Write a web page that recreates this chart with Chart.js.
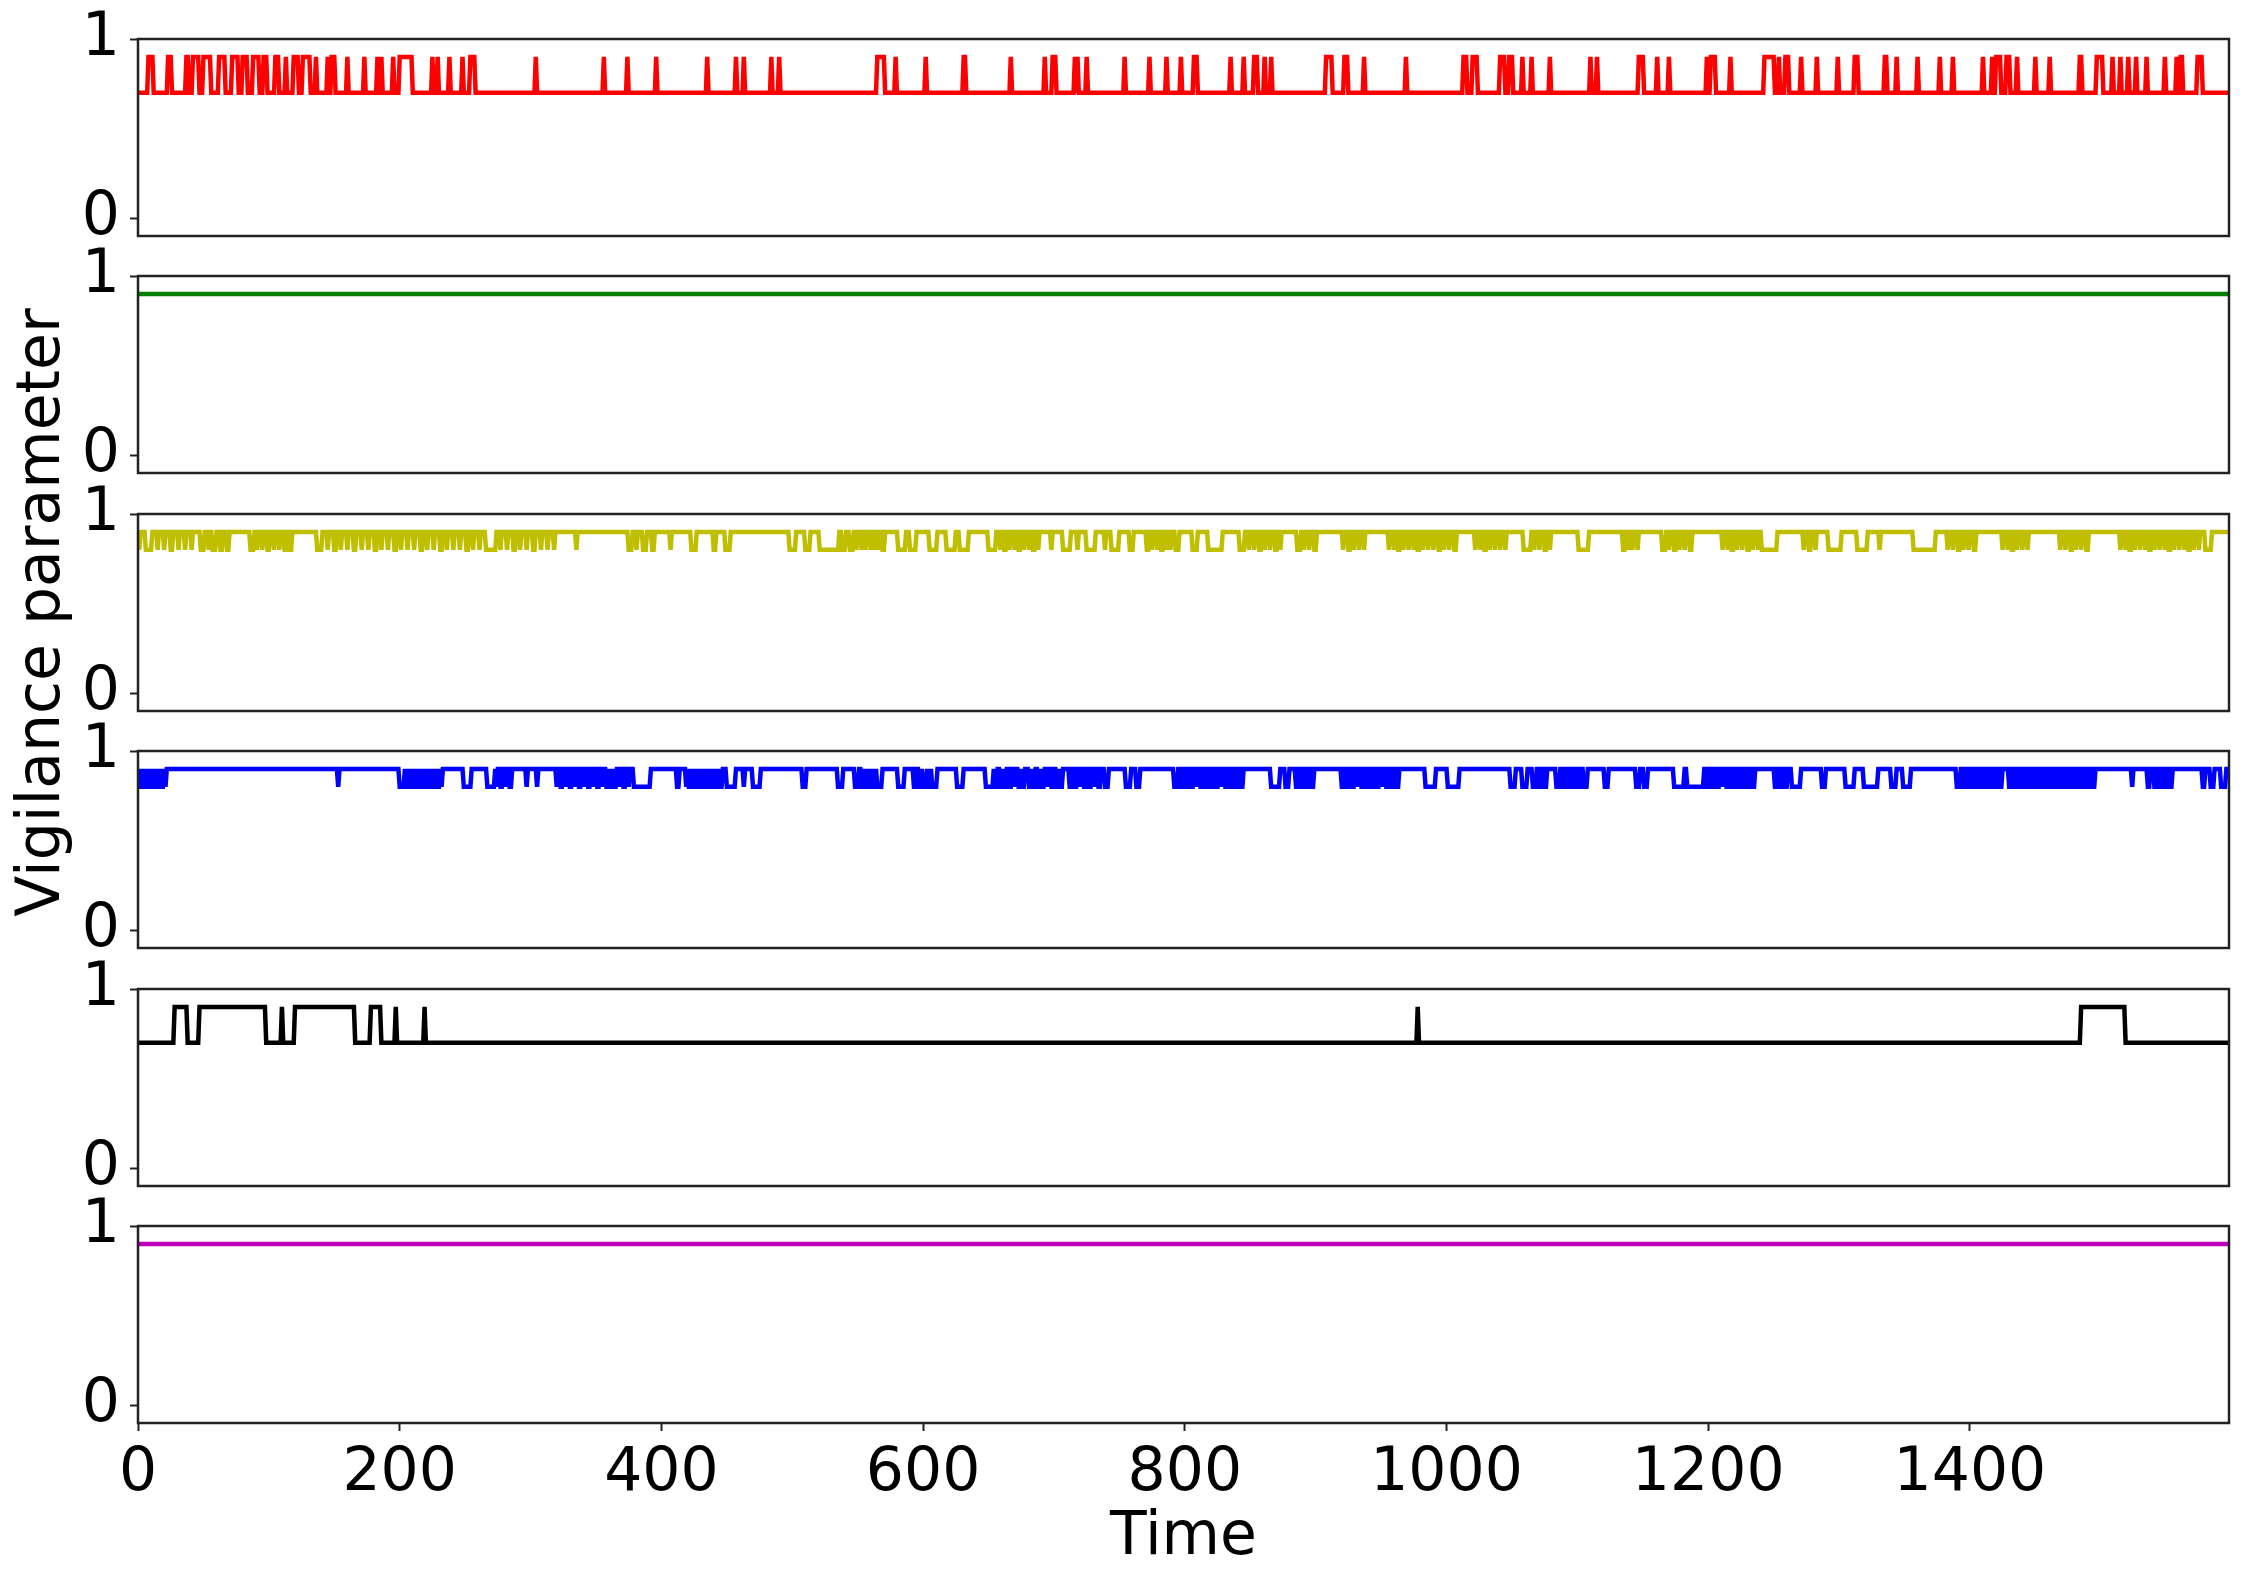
<!DOCTYPE html>
<html>
<head>
<meta charset="utf-8">
<script src="https://cdn.jsdelivr.net/npm/chart.js@4.4.1/dist/chart.umd.min.js"></script>
<style>
  html, body { margin: 0; padding: 0; background: #fff; }
  body { width: 2245px; height: 1582px; position: relative; overflow: hidden; }
  .panel { position: absolute; left: 0; width: 2245px; }
</style>
</head>
<body>
<script>
/* ── data ────────────────────────────────────────────────── */
const xMax = 1598;
const xTicks = [0, 200, 400, 600, 800, 1000, 1200, 1400];
const yTicks = [0, 1];

// red: sits at 0.7, jumps to 0.9 on these time spans
const redLevels = [0.7, 0.9];
const redHigh = [[8,11],[23,25],[37,38],[42,46],[50,55],[62,66],[72,76],[80,83],[88,92],[96,98],[105,107],[113,113],
  [119,122],[126,131],[136,136],[145,145],[148,150],[160,160],[173,173],[183,183],[186,186],[195,195],[200,209],
  [225,225],[229,229],[238,238],[248,248],[254,257],[304,304],[356,356],[374,374],[396,396],[435,435],[457,457],
  [463,463],[484,484],[490,490],[565,570],[579,579],[602,602],[631,632],[667,667],[693,693],[699,701],[716,716],
  [718,718],[725,725],[754,754],[773,773],[786,786],[797,797],[807,809],[835,835],[845,845],[853,855],[861,861],
  [866,866],[908,912],[922,924],[937,937],[969,969],[1013,1015],[1020,1023],[1041,1044],[1048,1050],[1058,1058],
  [1065,1065],[1079,1079],[1110,1110],[1115,1115],[1147,1150],[1161,1161],[1170,1170],[1199,1199],[1202,1205],
  [1217,1217],[1243,1250],[1254,1254],[1259,1261],[1271,1271],[1283,1283],[1299,1299],[1312,1314],[1335,1336],
  [1344,1344],[1360,1360],[1377,1377],[1387,1387],[1410,1410],[1417,1417],[1420,1423],[1428,1430],[1436,1436],
  [1450,1450],[1461,1461],[1484,1485],[1497,1501],[1509,1509],[1515,1515],[1521,1521],[1527,1527],[1535,1535],
  [1549,1549],[1558,1558],[1561,1562],[1574,1577]];

// green: flat
const greenLevel = 0.9;

// yellow: sits at 0.9, drops to 0.8 on these spans
const yellowLevels = [0.9, 0.8];
const yellowLow = [[1,1],[6,10],[15,15],[20,20],[25,26],[31,31],[36,36],[41,41],[48,50],[54,54],[57,59],[63,64],[68,69],
  [86,88],[91,91],[95,95],[99,100],[104,104],[108,108],[112,113],[116,117],
  [137,140],[145,145],[150,151],[155,155],[160,160],[165,166],[171,171],[176,176],[181,182],[186,186],[191,191],
  [196,197],[201,201],[206,206],[211,211],[216,217],[221,221],[226,226],[231,232],[236,236],[241,241],[246,246],
  [251,252],[256,256],[261,261],[266,273],[277,277],[282,282],[287,288],[292,292],[297,297],[302,303],[308,308],
  [313,313],[318,318],[335,335],[375,377],[381,381],[386,388],[393,394],[407,407],[423,426],[440,441],[449,452],
  [498,502],[510,513],[521,535],[538,540],[544,546],[549,549],[553,553],[556,556],[560,560],[563,563],[566,566],
  [569,570],[581,586],[590,594],[605,610],[618,624],[628,634],[650,655],[659,659],[662,663],[666,666],[670,670],
  [673,674],[677,677],[681,681],[684,685],[688,688],[698,698],[707,712],[718,718],[725,731],[739,739],[744,749],
  [758,760],[771,772],[775,775],[779,779],[782,783],[786,786],[789,789],[793,795],[806,809],[818,828],[842,845],
  [849,849],[853,853],[857,858],[861,861],[865,865],[869,870],[873,873],[886,888],[891,891],[895,895],[899,900],
  [921,921],[925,926],[929,929],[933,933],[937,937],[956,956],[960,960],[963,964],[967,967],[971,971],[975,975],
  [978,979],[982,982],[986,986],[990,990],[994,995],[998,998],[1002,1002],[1006,1007],[1022,1022],[1026,1026],
  [1029,1030],[1033,1033],[1037,1037],[1041,1041],[1045,1045],[1059,1064],[1067,1067],[1071,1071],[1075,1076],
  [1079,1079],[1101,1108],[1135,1136],[1139,1139],[1142,1142],[1146,1146],[1165,1167],[1170,1170],[1174,1175],
  [1178,1178],[1182,1182],[1186,1187],[1211,1211],[1215,1215],[1218,1219],[1222,1222],[1226,1226],[1230,1231],
  [1234,1234],[1238,1238],[1241,1252],[1273,1273],[1277,1278],[1282,1282],[1292,1301],[1314,1321],[1331,1331],
  [1357,1373],[1383,1383],[1387,1387],[1391,1392],[1395,1395],[1399,1399],[1403,1404],[1425,1425],[1429,1429],
  [1432,1433],[1436,1436],[1440,1440],[1444,1444],[1469,1469],[1473,1473],[1477,1478],[1481,1481],[1485,1485],
  [1489,1490],[1515,1515],[1519,1519],[1522,1523],[1526,1526],[1530,1530],[1534,1534],[1537,1538],[1541,1541],
  [1545,1545],[1549,1549],[1552,1553],[1556,1556],[1560,1560],[1564,1564],[1567,1568],[1571,1571],[1575,1575],
  [1580,1584]];

// blue: sits at 0.9, drops to 0.8 on these spans
const blueLevels = [0.9, 0.8];
const blueLow = [[0,1],[3,4],[6,7],[9,10],[12,13],[15,16],[18,19],[21,21],[153,153],
  [200,203],[205,206],[208,209],[211,212],[214,215],[217,218],[220,221],[223,224],[226,227],[229,230],[232,232],
  [249,254],[267,272],[274,274],[277,278],[281,281],[284,285],[297,297],[305,305],
  [320,320],[323,324],[327,327],[330,331],[334,334],[337,338],[341,341],[344,345],[348,348],[351,352],[355,355],
  [358,359],[361,362],[364,365],[368,368],[371,372],[375,375],[379,391],[412,413],
  [419,419],[421,422],[424,425],[427,428],[430,431],[433,434],[436,437],[439,440],[442,443],[445,446],
  [450,456],[463,463],[470,475],[508,510],[535,538],[548,550],[553,554],[556,557],[559,560],[562,563],[565,568],
  [581,585],[593,594],[597,598],[600,602],[604,605],[607,610],[626,630],[648,653],
  [655,656],[659,660],[662,663],[666,667],[670,670],[673,674],[676,677],
  [681,682],[684,685],[688,689],[691,692],[695,695],[698,699],[702,703],[705,706],
  [712,713],[716,717],[720,720],[723,724],[727,728],[731,731],[734,735],[739,741],[755,758],[763,765],
  [792,794],[797,798],[801,802],[805,806],[809,809],[812,813],[816,817],[820,821],[824,825],[828,828],[831,832],
  [835,836],[839,840],[843,844],[866,872],[877,879],[885,886],[889,890],[893,894],[897,898],
  [920,921],[924,925],[928,929],[932,932],[935,936],[939,940],[943,944],[947,948],[951,951],[954,955],[958,959],
  [962,963],[984,991],[1001,1009],[1049,1052],[1058,1061],[1066,1068],[1071,1072],[1075,1076],
  [1084,1086],[1089,1090],[1093,1094],[1097,1098],[1101,1102],[1105,1107],[1121,1123],[1145,1147],[1151,1153],
  [1174,1181],[1184,1196],[1199,1200],[1203,1204],[1207,1208],[1211,1211],[1214,1215],[1218,1219],[1222,1223],
  [1226,1227],[1230,1231],[1234,1235],[1251,1252],[1255,1256],[1259,1260],[1264,1270],[1287,1289],[1305,1311],
  [1319,1329],[1340,1343],[1349,1354],[1390,1392],[1395,1396],[1399,1400],[1403,1404],[1407,1408],[1411,1412],
  [1415,1416],[1419,1420],[1423,1424],[1430,1431],[1434,1435],[1438,1439],[1442,1443],[1446,1447],[1450,1451],
  [1454,1455],[1458,1459],[1462,1463],[1466,1467],[1470,1471],[1474,1475],[1478,1479],[1482,1483],[1486,1487],
  [1490,1491],[1494,1495],[1524,1524],[1536,1537],[1541,1542],[1545,1546],[1549,1550],[1553,1554],[1578,1579],
  [1584,1586],[1592,1595]];

// black: sits at 0.7, jumps to 0.9 on these spans
const blackLevels = [0.7, 0.9];
const blackHigh = [[28,37],[47,97],[110,110],[120,165],[178,185],[197,197],[219,219],[978,978],[1485,1518]];

// magenta: flat
const magentaLevel = 0.9;

/* ── helpers ─────────────────────────────────────────────── */
// one value per time step: base level, switched to the other level on the listed spans
function stepSeries(levels, spans) {
  const vals = new Array(xMax + 1).fill(levels[0]);
  spans.forEach(([a, b]) => { for (let t = a; t <= b; t++) vals[t] = levels[1]; });
  return vals.map((v, t) => ({x: t, y: v}));
}
function flatSeries(level) {
  return [{x: 0, y: level}, {x: xMax, y: level}];
}

Chart.defaults.font.family = '"DejaVu Sans", sans-serif';
Chart.defaults.font.size = 60;
Chart.defaults.color = '#000';

const boxPlugin = {
  id: 'box',
  afterDraw(chart) {
    const {ctx, chartArea: a} = chart;
    ctx.save();
    ctx.strokeStyle = '#222';
    ctx.lineWidth = 2.5;
    ctx.strokeRect(a.left, a.top, a.right - a.left, a.bottom - a.top);
    ctx.restore();
  }
};

const panels = [
  {data: stepSeries(redLevels, redHigh), color: '#ff0000'},
  {data: flatSeries(greenLevel), color: '#008000'},
  {data: stepSeries(yellowLevels, yellowLow), color: '#bfbf00', ylabel: 'Vigilance parameter'},
  {data: stepSeries(blueLevels, blueLow), color: '#0000ff'},
  {data: stepSeries(blackLevels, blackHigh), color: '#000000'},
  {data: flatSeries(magentaLevel), color: '#bf00bf', xlabel: 'Time'},
];

// layout (page pixels)
const plotLeft = 138, plotRight = 2229;
const firstTop = 38.5, step = 237.5, plotH = 197, xAxisH = 159;

panels.forEach((p, i) => {
  const last = i === panels.length - 1;
  // generous transparent margins so tick labels and the long y title never push or clip the plot box
  const pad = p.ylabel ? 240 : 70;
  const padBottom = last ? 0 : pad;
  const div = document.createElement('div');
  div.className = 'panel';
  div.style.top = (firstTop + step * i - pad) + 'px';
  div.style.height = (pad + plotH + (last ? xAxisH : padBottom)) + 'px';
  const cv = document.createElement('canvas');
  div.appendChild(cv);
  document.body.appendChild(div);

  new Chart(cv, {
    type: 'line',
    data: {
      datasets: [{
        data: p.data,
        borderColor: p.color,
        borderWidth: 4.5,
        pointRadius: 0,
        tension: 0,
        fill: false,
      }]
    },
    options: {
      responsive: true,
      maintainAspectRatio: false,
      animation: false,
      events: [],
      layout: { padding: { left: 0, right: 2245 - plotRight, top: pad, bottom: padBottom } },
      plugins: { legend: { display: false }, tooltip: { enabled: false } },
      scales: {
        x: {
          type: 'linear',
          min: 0,
          max: xMax,
          display: last,
          afterBuildTicks: s => { s.ticks = xTicks.map(v => ({value: v})); },
          afterFit: s => { s.height = last ? xAxisH : 0; },
          grid: { drawOnChartArea: false, drawTicks: true, tickLength: 8, tickColor: '#222', tickWidth: 2 },
          border: { display: false },
          ticks: { padding: 7, maxRotation: 0, autoSkip: false, callback: v => String(v) },
          title: { display: !!p.xlabel, text: p.xlabel || '', font: { size: 60, lineHeight: 1.2 }, padding: { top: 0, bottom: 8 } }
        },
        y: {
          min: -0.1,
          max: 1.0,
          afterBuildTicks: s => { s.ticks = yTicks.map(v => ({value: v})); },
          afterFit: s => { s.width = plotLeft; },
          grid: { drawOnChartArea: false, drawTicks: true, tickLength: 8, tickColor: '#222', tickWidth: 2 },
          border: { display: false },
          ticks: { padding: 10, callback: v => String(v) },
          title: { display: !!p.ylabel, text: p.ylabel || '', font: { size: 60, lineHeight: 1.2 }, padding: { top: 7, bottom: 0 } }
        }
      }
    },
    plugins: [boxPlugin]
  });
});
</script>
</body>
</html>
